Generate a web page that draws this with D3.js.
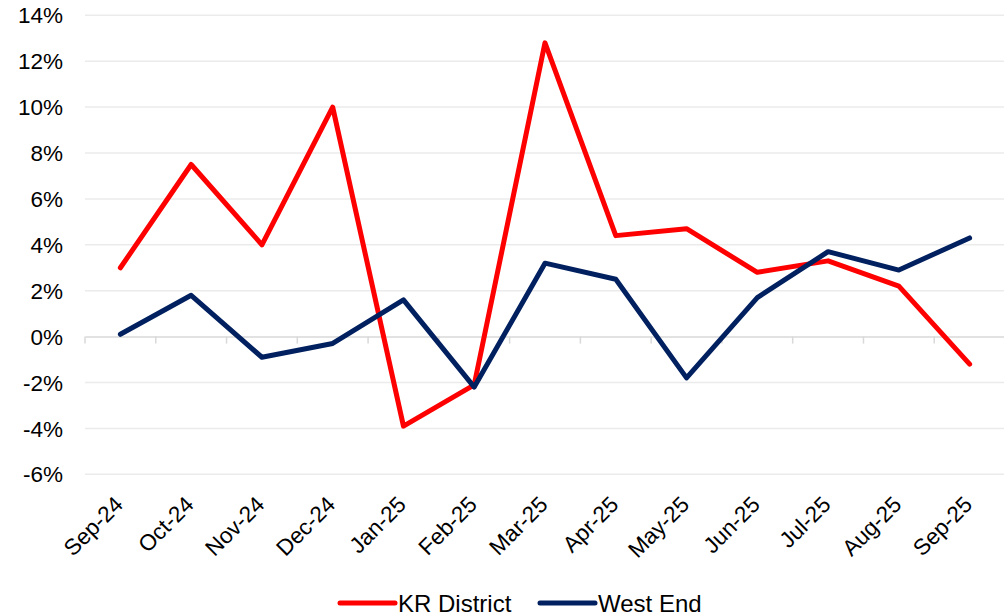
<!DOCTYPE html>
<html>
<head>
<meta charset="utf-8">
<script src="https://cdn.jsdelivr.net/npm/d3@7"></script>
<style>
  body { margin: 0; background: #fff; }
  text { font-family: "Liberation Sans", Arial, sans-serif; fill: #000; }
</style>
</head>
<body>
<div id="chart"></div>
<script>
var months = ["Sep-24","Oct-24","Nov-24","Dec-24","Jan-25","Feb-25","Mar-25","Apr-25","May-25","Jun-25","Jul-25","Aug-25","Sep-25"]
var krDistrict = [3.0, 7.5, 4.0, 10.0, -3.9, -2.1, 12.8, 4.4, 4.7, 2.8, 3.3, 2.2, -1.2]
var westEnd = [0.1, 1.8, -0.9, -0.3, 1.6, -2.2, 3.2, 2.5, -1.8, 1.7, 3.7, 2.9, 4.3]
var yTicks = [-6, -4, -2, 0, 2, 4, 6, 8, 10, 12, 14]

var svgWidth = 1004, svgHeight = 615

var svg = d3.select("#chart")
  .append("svg")
  .attr("width", svgWidth)
  .attr("height", svgHeight)

// plot area
var plotLeft = 85, plotRight = 1005, plotTop = 15.3, plotBottom = 474.3

var x = d3.scaleBand()
  .domain(months)
  .range([plotLeft, plotRight])
var y = d3.scaleLinear()
  .domain([-6, 14])
  .range([plotBottom, plotTop])

// gridlines
svg.append("g")
  .selectAll("line")
  .data(yTicks.filter(d => d != 0))
  .enter()
  .append("line")
    .attr("x1", plotLeft)
    .attr("x2", plotRight)
    .attr("y1", d => y(d))
    .attr("y2", d => y(d))
    .style("stroke", "#ebebeb")
    .style("stroke-width", 1.5)

// y labels
svg.append("g")
  .selectAll("text")
  .data(yTicks)
  .enter()
  .append("text")
    .attr("x", 63)
    .attr("y", d => y(d))
    .attr("dy", "0.36em")
    .attr("text-anchor", "end")
    .attr("font-size", "22.5px")
    .text(d => d + "%")

// zero axis with tick marks
var xAxis = svg.append("g")
  .attr("transform", "translate(0," + y(0) + ")")
  .call(d3.axisBottom(x).tickSizeOuter(0).tickSizeInner(0).tickFormat(""))
xAxis.select(".domain").style("stroke", "#d9d9d9").style("stroke-width", 1.5)
xAxis.selectAll(".tick").remove()
xAxis.selectAll("line.sep")
  .data(months)
  .enter()
  .append("line")
    .attr("class", "sep")
    .attr("x1", d => x(d))
    .attr("x2", d => x(d))
    .attr("y1", 0)
    .attr("y2", 7)
    .style("stroke", "#d9d9d9")
    .style("stroke-width", 1.5)

// x labels, rotated
svg.append("g")
  .selectAll("text")
  .data(months)
  .enter()
  .append("text")
    .attr("transform", d => "translate(" + (x(d) + x.bandwidth() / 2 + 4) + "," + 506 + ") rotate(-45)")
    .attr("text-anchor", "end")
    .attr("font-size", "22.5px")
    .text(d => d)

// lines
var line = d3.line()
  .x((d, i) => x(months[i]) + x.bandwidth() / 2)
  .y(d => y(d))

var series = [
  {name: "KR District", values: krDistrict, color: "#ff0000"},
  {name: "West End", values: westEnd, color: "#002060"}
]

svg.selectAll("path.series")
  .data(series)
  .enter()
  .append("path")
    .attr("class", "series")
    .attr("d", d => line(d.values))
    .style("fill", "none")
    .style("stroke", d => d.color)
    .style("stroke-width", 5)
    .style("stroke-linejoin", "round")
    .style("stroke-linecap", "round")

// legend
var legendX = [340, 540]
var legend = svg.selectAll("g.legend")
  .data(series)
  .enter()
  .append("g")
    .attr("class", "legend")
    .attr("transform", (d, i) => "translate(" + legendX[i] + ",603)")
legend.append("line")
  .attr("x1", 0)
  .attr("x2", 55)
  .style("stroke", d => d.color)
  .style("stroke-width", 5)
  .style("stroke-linecap", "round")
legend.append("text")
  .attr("x", 58)
  .attr("dy", "0.36em")
  .attr("font-size", "24px")
  .text(d => d.name)
</script>
</body>
</html>
